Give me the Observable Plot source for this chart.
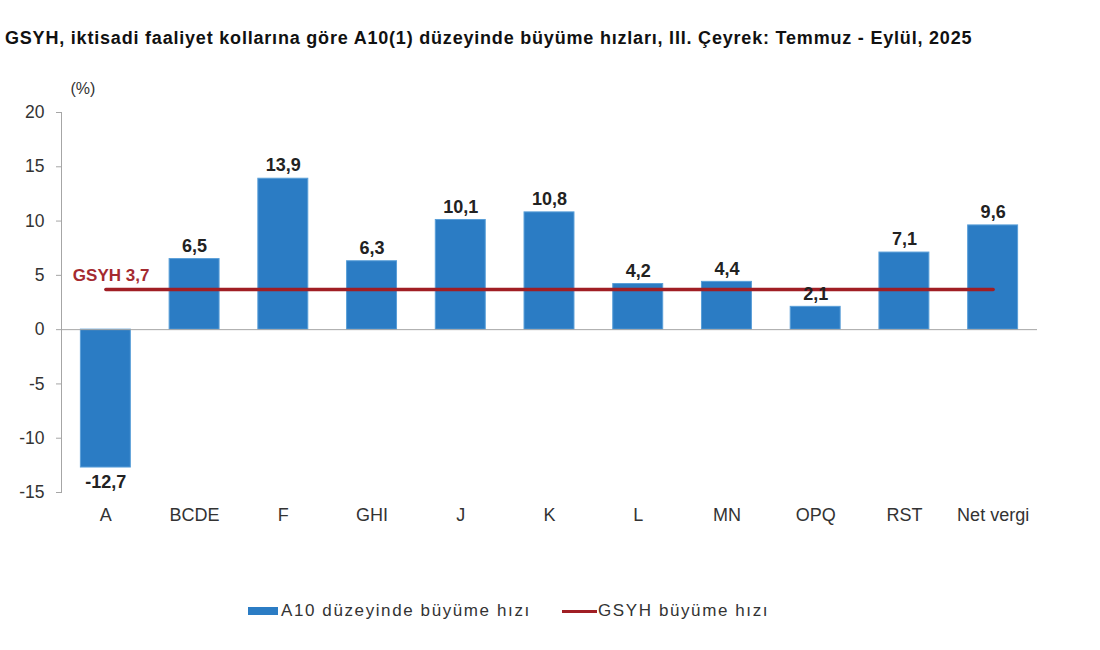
<!DOCTYPE html>
<html>
<head>
<meta charset="utf-8">
<script src="https://cdn.jsdelivr.net/npm/d3@7"></script>
<script src="https://cdn.jsdelivr.net/npm/@observablehq/plot@0.6"></script>
<style>
  body { margin: 0; background: #fff; font-family: "Liberation Sans", Arial, sans-serif; }
  #wrap { position: relative; width: 1100px; height: 650px; }
  #title { position: absolute; left: 5px; top: 27px; font-size: 18px; letter-spacing: 0.8px; font-weight: bold; color: #111; line-height: 22px; white-space: nowrap; }
  #chart { position: absolute; left: 0; top: 60px; }
  .leg { position: absolute; top: 601px; font-size: 17px; letter-spacing: 1.6px; color: #333; line-height: 20px; white-space: nowrap; display: flex; align-items: center; }
  .sw-bar { display: inline-block; width: 30px; height: 8px; background: #2b7cc4; margin-right: 3px; }
  .sw-line { display: inline-block; width: 35px; height: 3px; background: #a01e24; margin-right: 1px; }
</style>
</head>
<body>
<div id="wrap">
  <div id="title">GSYH, iktisadi faaliyet kollarına göre A10(1) düzeyinde büyüme hızları, III. Çeyrek: Temmuz - Eylül, 2025</div>
  <div id="chart"></div>
  <div class="leg" style="left:248px"><span class="sw-bar"></span>A10 düzeyinde büyüme hızı</div>
  <div class="leg" style="left:562px"><span class="sw-line"></span>GSYH büyüme hızı</div>
</div>
<script>
const categories = ["A", "BCDE", "F", "GHI", "J", "K", "L", "MN", "OPQ", "RST", "Net vergi"];
const growth = [-12.7, 6.5, 13.9, 6.3, 10.1, 10.8, 4.2, 4.4, 2.1, 7.1, 9.6];
const gsyhGrowth = 3.7;
const yTicks = [-15, -10, -5, 0, 5, 10, 15, 20];

const fmt = v => d3.format(".1f")(v).replace("−", "-").replace(".", ",");
const rows = categories.map((c, i) => ({cat: c, v: growth[i]}));
const lineRows = categories.map(c => ({cat: c, v: gsyhGrowth}));

const plot = Plot.plot({
  width: 1100,
  height: 500,
  marginTop: 52,
  marginBottom: 68,
  marginLeft: 61,
  marginRight: 63,
  style: {fontFamily: "'Liberation Sans', Arial, sans-serif", fontSize: "17px", color: "#333", background: "transparent"},
  x: {domain: categories, paddingInner: 0.437, paddingOuter: 0.2185, round: false, label: null},
  y: {domain: [-15, 20], label: null},
  marks: [
    Plot.barY(rows, {x: "cat", y: "v", fill: "#2b7cc4", stroke: "#5a9fd8", strokeWidth: 1}),
    Plot.ruleY([0], {stroke: "#a6a6a6", strokeWidth: 1}),
    Plot.frame({anchor: "left", stroke: "#a6a6a6"}),
    Plot.axisY({ticks: yTicks, tickSize: 5, tickPadding: 12, tickFormat: d => String(d), stroke: "#a6a6a6", fill: "#333", fontSize: 17.5}),
    Plot.axisX({tickSize: 0, tickPadding: 16, fill: "#333", fontSize: 18}),
    Plot.lineY(lineRows, {x: "cat", y: "v", stroke: "#a01e24", strokeWidth: 3.5}),
    Plot.text(rows.filter(d => d.v >= 0), {x: "cat", y: "v", text: d => fmt(d.v), dy: -13, fontWeight: "bold", fontSize: 18, fill: "#222"}),
    Plot.text(rows.filter(d => d.v < 0), {x: "cat", y: "v", text: d => fmt(d.v), dy: 15, fontWeight: "bold", fontSize: 18, fill: "#222"}),
    Plot.text([{cat: categories[0], v: gsyhGrowth}], {x: "cat", y: "v", text: d => "GSYH " + fmt(d.v), textAnchor: "start", dx: -33, dy: -14, fontWeight: "bold", fontSize: 17, fill: "#a42a30"}),
    Plot.text(["(%)"], {frameAnchor: "top-left", text: d => d, dx: 9, dy: -30, fontSize: 16, fill: "#333"})
  ]
});
document.getElementById("chart").append(plot);
</script>
</body>
</html>
